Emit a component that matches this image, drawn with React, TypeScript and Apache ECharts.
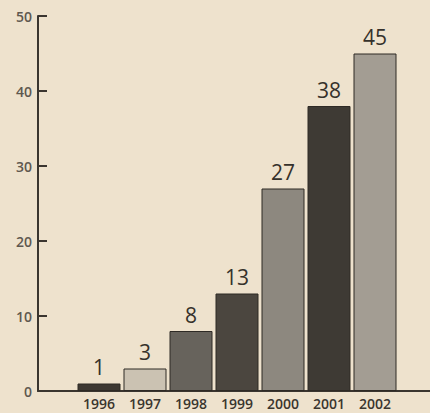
import React, { useEffect, useRef } from "react";
import * as echarts from "echarts";

const years = ["1996", "1997", "1998", "1999", "2000", "2001", "2002"];
const values = [1, 3, 8, 13, 27, 38, 45];
const barColors = ["#3d3832", "#cbc2b2", "#67635c", "#4b463f", "#8d887f", "#3e3a34", "#a39d93"];
const yTicks = [0, 10, 20, 30, 40, 50];

export default function App() {
  const ref = useRef<HTMLDivElement>(null);
  useEffect(() => {
    const chart = echarts.init(ref.current!, null, { renderer: "svg" });
    chart.setOption({
      animation: false,
      backgroundColor: "#eee2cd",
      grid: [
        { left: 38, right: 0, top: 16, bottom: 22 },
        { left: 76, right: 32, top: 16, bottom: 22 },
      ],
      xAxis: [
        {
          gridIndex: 0,
          type: "value",
          min: 0,
          max: 1,
          axisLine: { show: true, lineStyle: { color: "#3a352f", width: 2 } },
          axisTick: { show: false },
          axisLabel: { show: false },
          splitLine: { show: false },
        },
        {
          gridIndex: 1,
          type: "category",
          data: years,
          axisLine: { show: false },
          axisTick: { show: false },
          axisLabel: {
            color: "#3a352f",
            fontSize: 14,
            fontWeight: 600,
            fontFamily: "Open Sans",
            margin: 5,
          },
        },
      ],
      yAxis: [
        {
          gridIndex: 0,
          type: "value",
          min: yTicks[0],
          max: yTicks[yTicks.length - 1],
          interval: 10,
          axisLine: { show: true, lineStyle: { color: "#3a352f", width: 2 } },
          axisTick: { show: true, inside: true, length: 9, lineStyle: { color: "#3a352f", width: 2 } },
          axisLabel: {
            color: "#5e584f",
            fontSize: 14,
            fontWeight: 600,
            fontFamily: "Open Sans",
            margin: 6,
          },
          splitLine: { show: false },
        },
        {
          gridIndex: 1,
          type: "value",
          min: 0,
          max: 50,
          show: false,
        },
      ],
      series: [
        {
          type: "bar",
          xAxisIndex: 1,
          yAxisIndex: 1,
          barWidth: 43,
          data: values.map((v, i) => ({
            value: v,
            itemStyle: { color: barColors[i], borderColor: "#2e2a25", borderWidth: 1 },
          })),
          label: {
            show: true,
            position: "top",
            distance: 6,
            color: "#35312b",
            fontSize: 21,
            fontFamily: "Open Sans",
          },
        },
      ],
    });
    return () => chart.dispose();
  }, []);
  return (
    <div
      ref={ref}
      style={{ position: "fixed", left: 0, top: 0, width: 430, height: 413 }}
    />
  );
}
